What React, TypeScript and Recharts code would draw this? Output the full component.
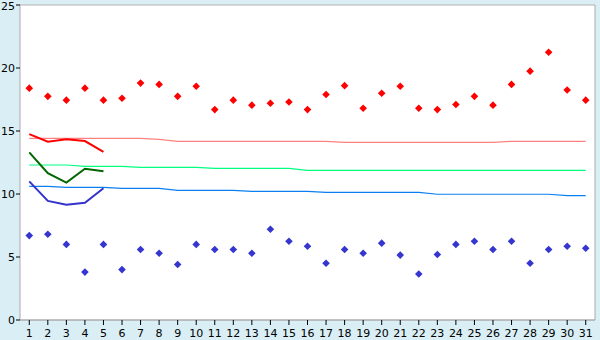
import React from "react";
import {
  CartesianGrid,
  ComposedChart,
  Line,
  XAxis,
  YAxis,
} from "recharts";

const days = [
  "1", "2", "3", "4", "5", "6", "7", "8", "9", "10", "11", "12", "13", "14", "15", "16",
  "17", "18", "19", "20", "21", "22", "23", "24", "25", "26", "27", "28", "29", "30", "31",
];

const highs = [
  18.4, 17.75, 17.45, 18.4, 17.45, 17.6, 18.8, 18.7, 17.75, 18.55, 16.7, 17.45, 17.05, 17.2,
  17.3, 16.7, 17.9, 18.6, 16.8, 18.0, 18.55, 16.8, 16.7, 17.1, 17.75, 17.05, 18.7, 19.75,
  21.25, 18.25, 17.45,
];

const lows = [
  6.7, 6.8, 6.0, 3.8, 6.0, 4.0, 5.6, 5.3, 4.4, 6.0, 5.6, 5.6, 5.3, 7.2, 6.25, 5.85, 4.5, 5.6,
  5.3, 6.1, 5.15, 3.65, 5.2, 6.0, 6.25, 5.6, 6.25, 4.5, 5.6, 5.85, 5.7,
];

// current month, first 5 days only
const curRed = [14.75, 14.15, 14.35, 14.2, 13.35];
const curGreen = [13.3, 11.65, 10.9, 12.0, 11.8];
const curBlue = [11.0, 9.45, 9.15, 9.3, 10.45];

// long-term reference lines
const refRed = [
  14.42, 14.42, 14.42, 14.42, 14.42, 14.42, 14.42, 14.34, 14.18, 14.18, 14.18, 14.18, 14.18,
  14.18, 14.18, 14.18, 14.18, 14.1, 14.1, 14.1, 14.1, 14.1, 14.1, 14.1, 14.1, 14.1, 14.18,
  14.18, 14.18, 14.18, 14.18,
];
const refGreen = [
  12.3, 12.3, 12.3, 12.2, 12.2, 12.2, 12.12, 12.12, 12.12, 12.12, 12.04, 12.04, 12.04, 12.04,
  12.04, 11.88, 11.88, 11.88, 11.88, 11.88, 11.88, 11.88, 11.88, 11.88, 11.88, 11.88, 11.88,
  11.88, 11.88, 11.88, 11.88,
];
const refBlue = [
  10.6, 10.6, 10.53, 10.53, 10.53, 10.45, 10.45, 10.45, 10.29, 10.29, 10.29, 10.29, 10.21,
  10.21, 10.21, 10.21, 10.13, 10.13, 10.13, 10.13, 10.13, 10.13, 9.98, 9.98, 9.98, 9.98, 9.98,
  9.98, 9.98, 9.87, 9.87,
];

const yTicks = [0, 5, 10, 15, 20, 25];

const data = days.map((day, i) => ({
  day,
  high: highs[i],
  low: lows[i],
  curRed: i < curRed.length ? curRed[i] : null,
  curGreen: i < curGreen.length ? curGreen[i] : null,
  curBlue: i < curBlue.length ? curBlue[i] : null,
  refRed: refRed[i],
  refGreen: refGreen[i],
  refBlue: refBlue[i],
}));

const diamond = (color: string) => (props: any) => {
  const { cx, cy, index } = props;
  if (cx == null || cy == null) return <g key={index} />;
  const r = 3.8;
  return (
    <polygon
      key={index}
      points={`${cx},${cy - r} ${cx + r},${cy} ${cx},${cy + r} ${cx - r},${cy}`}
      fill={color}
    />
  );
};

const axisColor = "#aaaaaa";
const tickStyle = { fontSize: 11, fill: "#000", fontFamily: "DejaVu Sans, sans-serif" };

export default function App() {
  return (
    <div style={{ position: "absolute", left: 0, top: 0, width: 600, height: 340, background: "#d9eff5" }}>
      <ComposedChart
        width={600}
        height={340}
        data={data}
        margin={{ top: 5, right: 0, left: 0, bottom: 0 }}
      >
        <CartesianGrid vertical={false} stroke="#b0b0b0" fill="#ffffff" />
        <XAxis
          dataKey="day"
          scale="band"
          interval={0}
          height={20}
          tick={tickStyle}
          tickSize={5}
          tickMargin={4}
          stroke={axisColor}
          tickLine={{ stroke: "#000" }}
          axisLine={{ stroke: axisColor }}
        />
        <YAxis
          yAxisId="left"
          domain={[0, 25]}
          ticks={yTicks}
          width={20}
          tick={tickStyle}
          tickSize={4}
          tickMargin={1}
          tickLine={{ stroke: "#000" }}
          axisLine={{ stroke: axisColor }}
        />
        <YAxis
          yAxisId="right"
          orientation="right"
          domain={[0, 25]}
          width={5}
          tick={false}
          tickLine={false}
          axisLine={{ stroke: axisColor }}
        />
        <Line yAxisId="left" dataKey="refRed" stroke="#ff8080" strokeWidth={1.2} dot={false} isAnimationActive={false} />
        <Line yAxisId="left" dataKey="refGreen" stroke="#00ff80" strokeWidth={1.2} dot={false} isAnimationActive={false} />
        <Line yAxisId="left" dataKey="refBlue" stroke="#0a80f0" strokeWidth={1.2} dot={false} isAnimationActive={false} />
        <Line yAxisId="left" dataKey="curRed" stroke="#ff0000" strokeWidth={2} dot={false} isAnimationActive={false} />
        <Line yAxisId="left" dataKey="curGreen" stroke="#006600" strokeWidth={2} dot={false} isAnimationActive={false} />
        <Line yAxisId="left" dataKey="curBlue" stroke="#3333cc" strokeWidth={2} dot={false} isAnimationActive={false} />
        <Line yAxisId="left" dataKey="high" stroke="none" dot={diamond("#ff0000")} activeDot={false} isAnimationActive={false} />
        <Line yAxisId="left" dataKey="low" stroke="none" dot={diamond("#3535cf")} activeDot={false} isAnimationActive={false} />
      </ComposedChart>
    </div>
  );
}
